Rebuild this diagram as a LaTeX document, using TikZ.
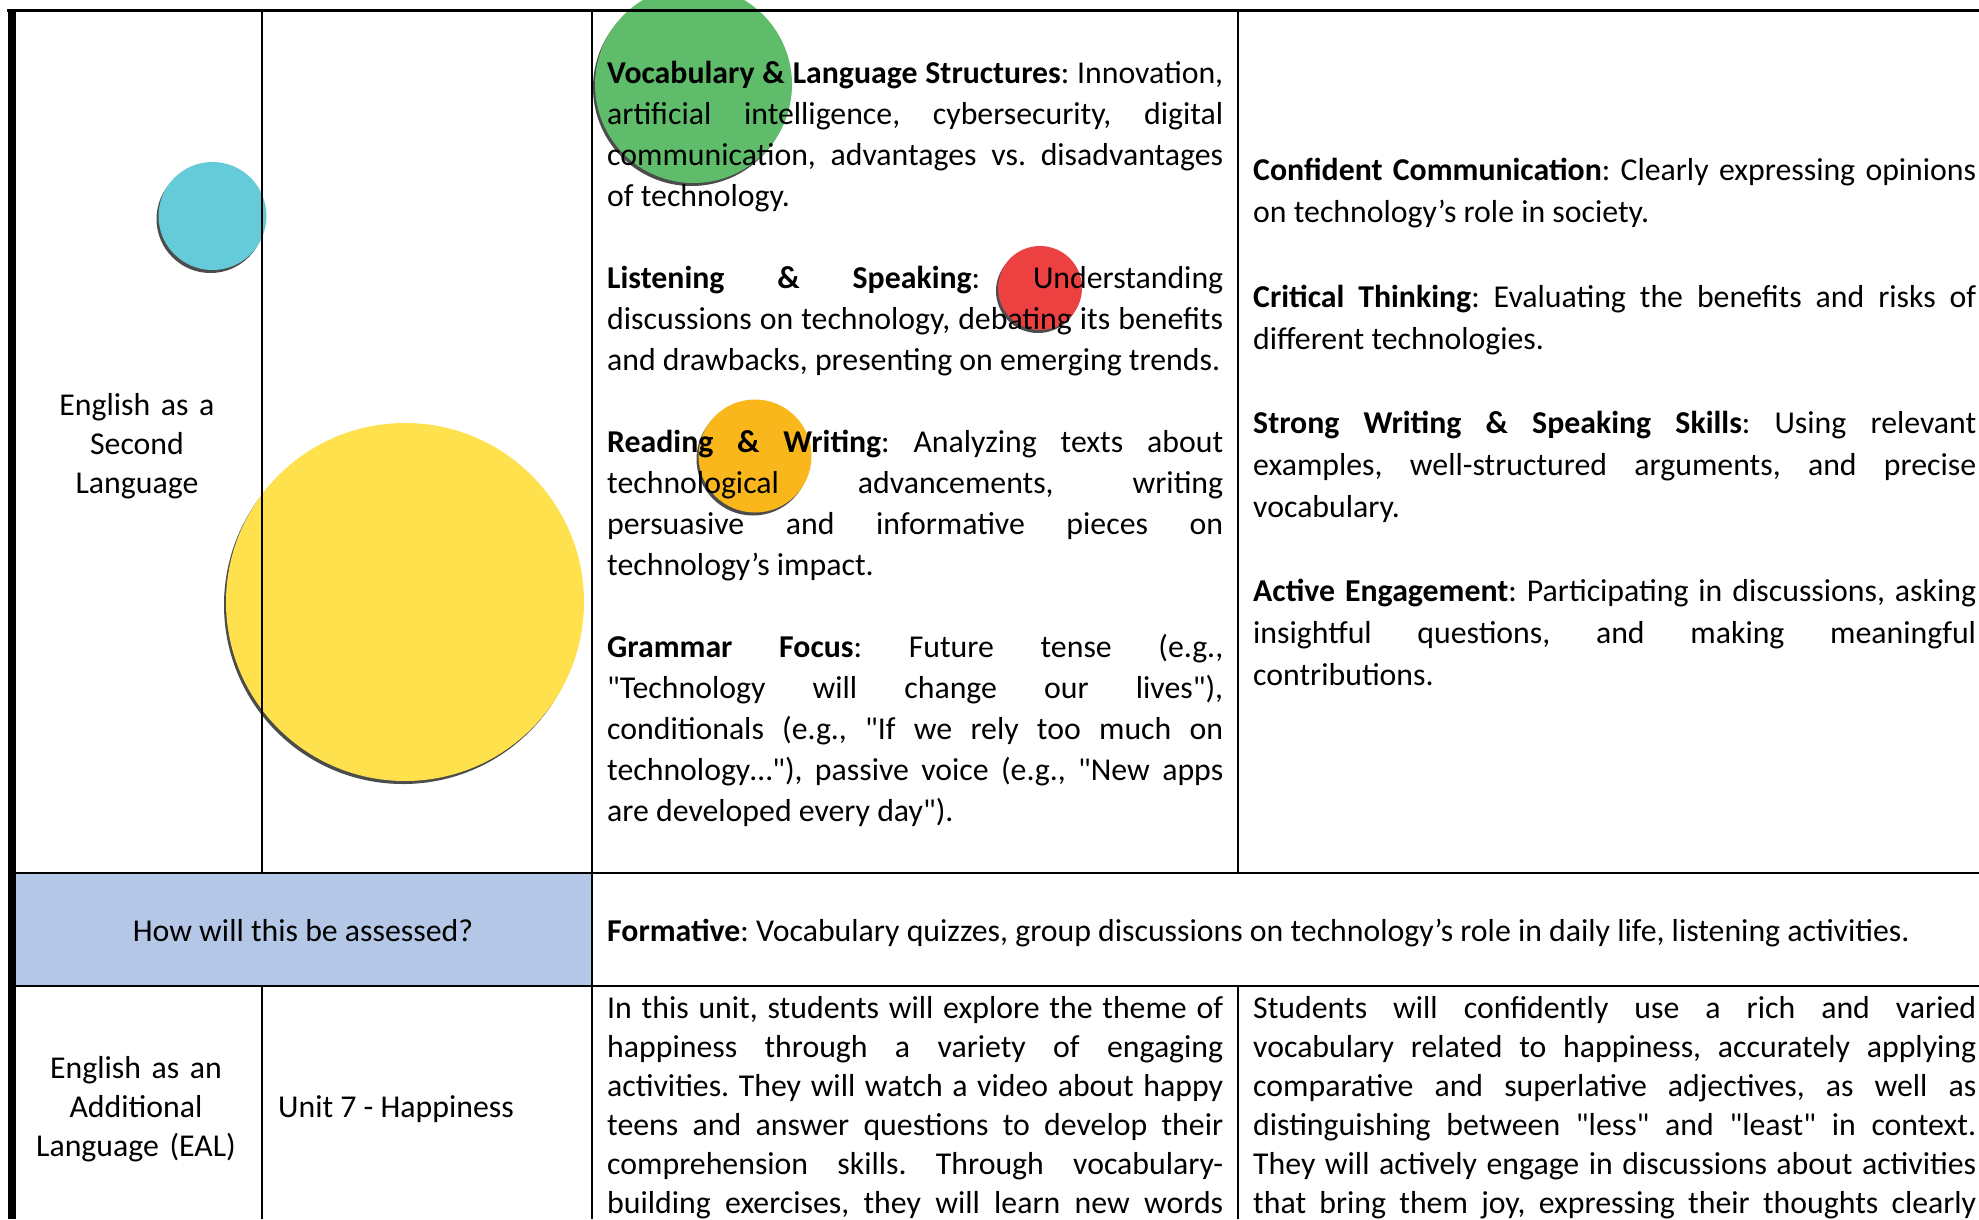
\documentclass[tikz,border=0pt]{standalone}
\usepackage{fontspec}
\setmainfont{Carlito}
\usetikzlibrary{shadows}
\definecolor{cyanb}{HTML}{66CBD8}
\definecolor{greenb}{HTML}{5EBC6A}
\definecolor{redb}{HTML}{ED4040}
\definecolor{orangeb}{HTML}{FAB71B}
\definecolor{yellowb}{HTML}{FFE14D}
\definecolor{headblue}{HTML}{B4C7E7}
\newlength\jw
\newcommand\JL[1]{\leavevmode\hbox to\jw{\spaceskip=0.226em plus 1fil minus 0.1em\relax #1}\\}
\newcommand\JE[1]{\leavevmode\hbox to\jw{\spaceskip=0.226em plus 1fil minus 0.1em\relax #1}}
\newcommand\LL[1]{\leavevmode\hbox to\jw{\spaceskip=0.226em minus 0.1em\relax #1\hfil}}
\newcommand\q{\textquotedbl}
\tikzset{
  bubble/.style={fill=#1, drop shadow={shadow xshift=-2pt, shadow yshift=-3pt, fill=black, opacity=0.7}},
  thinrule/.style={line width=1.8pt, black},
  rowrule/.style={line width=2.5pt, black},
  para/.style={anchor=base west, inner sep=0pt, align=left, text width=616pt, execute at begin node={\setlength{\jw}{616pt}}, font=\fontsize{31.8}{41}\selectfont},
  paraB/.style={anchor=base west, inner sep=0pt, align=left, text width=723pt, execute at begin node={\setlength{\jw}{723pt}}, font=\fontsize{31.8}{42.1}\selectfont},
  paraC/.style={para, font=\fontsize{31.8}{39.1}\selectfont},
  paraD/.style={paraB, font=\fontsize{31.8}{39.1}\selectfont},
  label/.style={inner sep=0pt, font=\fontsize{31.8}{39.4}\selectfont},
}
\frenchspacing
\begin{document}
\begin{tikzpicture}[x=1pt,y=-1pt]
\useasboundingbox (0,0) rectangle (1979,1219);
\clip (0,0) rectangle (1979,1219);
\fill[white] (0,0) rectangle (1979,1219);

% decorative bubbles
\fill[bubble=cyanb] (212.5,216) circle (54pt);
\fill[bubble=greenb] (693.5,84.5) circle (98.5pt);
\fill[bubble=redb] (1040,288) circle (42pt);
\fill[bubble=orangeb] (755,456) circle (56.5pt);
\fill[bubble=yellowb] (405,602) circle (179pt);

% header band
\fill[headblue] (15.5,873) rectangle (592,986);

% table rules
\draw[thinrule] (262,12) -- (262,873);
\draw[thinrule] (262,986) -- (262,1219);
\draw[thinrule] (592,12) -- (592,1219);
\draw[thinrule] (1238,12) -- (1238,873);
\draw[thinrule] (1238,986) -- (1238,1219);
\draw[rowrule] (15,873) -- (1979,873);
\draw[rowrule] (15,986) -- (1979,986);
\draw[line width=3pt] (7,10.5) -- (1979,10.5);
\draw[line width=8pt] (11.5,9) -- (11.5,1219);

% column 1 and 2
\node[label, anchor=base, text width=240pt, align=center] (esl) at (137,415) {English as a\\Second\\Language};
\node[label, anchor=base, text width=240pt, align=center, font=\fontsize{31.8}{39.1}\selectfont] (eal) at (136,1078) {English as an\\Additional\\Language (EAL)};
\node[label, anchor=base west] (unit) at (278,1117) {Unit 7 - Happiness};
\node[label, anchor=base] (assess) at (303,941) {How will this be assessed?};
\node[label, anchor=base west] (formative) at (607,941) {\textbf{Formative}: Vocabulary quizzes, group discussions on technology’s role in daily life, listening activities.};

% column 3
\node[para] (voc) at (607,83) {%
\JL{\textbf{Vocabulary \& Language Structures}: Innovation,}
\JL{artificial intelligence, cybersecurity, digital}
\JL{communication, advantages vs. disadvantages}
\LL{of technology.}};
\node[para] (listen) at (607,288) {%
\JL{\textbf{Listening \& Speaking}: Understanding}
\JL{discussions on technology, debating its benefits}
\LL{and drawbacks, presenting on emerging trends.}};
\node[para] (read) at (607,452) {%
\JL{\textbf{Reading \& Writing}: Analyzing texts about}
\JL{technological advancements, writing}
\JL{persuasive and informative pieces on}
\LL{technology’s impact.}};
\node[para] (gram) at (607,657) {%
\JL{\textbf{Grammar Focus}: Future tense (e.g.,}
\JL{\q Technology will change our lives\q),}
\JL{conditionals (e.g., \q If we rely too much on}
\JL{technology…\q), passive voice (e.g., \q New apps}
\LL{are developed every day\q).}};

% column 4
\node[paraB] (conf) at (1253,180.5) {%
\JL{\textbf{Confident Communication}: Clearly expressing opinions}
\LL{on technology’s role in society.}};
\node[paraB] (crit) at (1253,307) {%
\JL{\textbf{Critical Thinking}: Evaluating the benefits and risks of}
\LL{different technologies.}};
\node[paraB] (strong) at (1253,433.5) {%
\JL{\textbf{Strong Writing \& Speaking Skills}: Using relevant}
\JL{examples, well-structured arguments, and precise}
\LL{vocabulary.}};
\node[paraB] (active) at (1253,601.5) {%
\JL{\textbf{Active Engagement}: Participating in discussions, asking}
\JL{insightful questions, and making meaningful}
\LL{contributions.}};

% bottom row
\node[paraC] (intro) at (607,1018) {%
\JL{In this unit, students will explore the theme of}
\JL{happiness through a variety of engaging}
\JL{activities. They will watch a video about happy}
\JL{teens and answer questions to develop their}
\JL{comprehension skills. Through vocabulary-}
\JE{building exercises, they will learn new words}};
\node[paraD] (outcome) at (1253,1018) {%
\JL{Students will confidently use a rich and varied}
\JL{vocabulary related to happiness, accurately applying}
\JL{comparative and superlative adjectives, as well as}
\JL{distinguishing between \q less\q{} and \q least\q{} in context.}
\JL{They will actively engage in discussions about activities}
\JE{that bring them joy, expressing their thoughts clearly}};
\end{tikzpicture}
\end{document}
